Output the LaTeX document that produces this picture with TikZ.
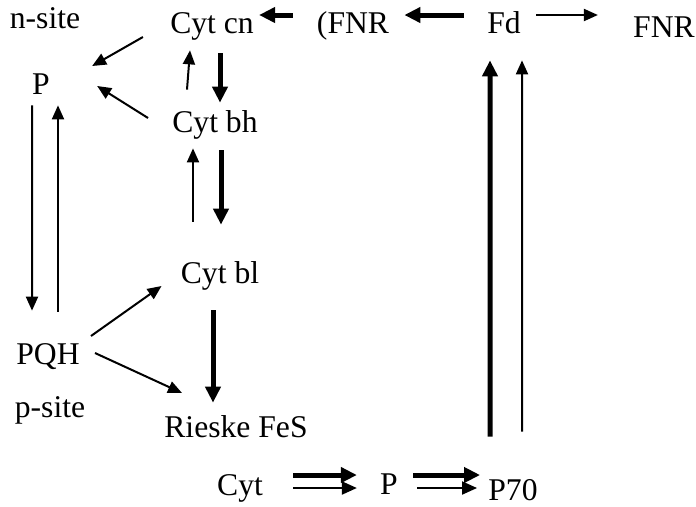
\documentclass[tikz,border=0pt]{standalone}
\usepackage{fontspec}
\setmainfont{Liberation Serif}
\usetikzlibrary{arrows.meta}

\begin{document}
\begin{tikzpicture}[every node/.style={font=\fontsize{18}{21}\selectfont,inner sep=0pt,text height=0.4cm,text depth=0.12cm,anchor=base},
lite/.style={line width=0.04cm,-{Triangle[length=0.28cm,width=0.24cm]}},
heavy/.style={line width=0.1cm,-{Triangle[length=0.32cm,width=0.30cm]}},
pairlow/.style={line width=0.04cm,-{Triangle[length=0.30cm,width=0.26cm]}}]
\useasboundingbox (0,0) rectangle (13.92,-10.12);
\node (nsite) at (0.90,-0.56) {n-site};
\node (cn) at (4.24,-0.66) {Cyt cn};
\node (fnrL) at (7.06,-0.66) {(FNR};
\node (fd) at (10.08,-0.66) {Fd};
\node (fnrR) at (13.28,-0.74) {FNR};
\node (p) at (0.82,-1.88) {P};
\node (bh) at (4.30,-2.64) {Cyt bh};
\node (bl) at (4.40,-5.66) {Cyt bl};
\node (pqh) at (0.96,-7.28) {PQH};
\node (psite) at (1.00,-8.34) {p-site};
\node (fes) at (4.72,-8.74) {Rieske FeS};
\node (cyt) at (4.80,-9.90) {Cyt};
\node (pm) at (7.78,-9.88) {P};
\node (p70) at (10.26,-10.00) {P70};
\draw[heavy] ([xshift=-0.46cm,yshift=0.22cm]fd.west) -- ([xshift=0.30cm,yshift=0.22cm]fnrL.east);
\draw[heavy] ([xshift=-0.48cm,yshift=0.22cm]fnrL.west) -- ([xshift=0.10cm,yshift=0.22cm]cn.east);
\draw[lite] ([xshift=0.30cm,yshift=0.22cm]fd.east) -- ([xshift=-0.70cm,yshift=0.30cm]fnrR.west);
\draw[lite] ([xshift=-0.54cm,yshift=-0.22cm]cn.west) -- ([xshift=0.84cm,yshift=0.42cm]p.east);
\draw[lite] ([xshift=-0.48cm,yshift=0.14cm]bh.west) -- ([xshift=0.94cm,yshift=0.02cm]p.east);
\draw[lite] ([xshift=-0.56cm,yshift=0.44cm]bh.north) -- ([xshift=-0.44cm,yshift=-0.22cm]cn.south);
\draw[heavy] ([xshift=0.16cm,yshift=-0.28cm]cn.south) -- ([xshift=0.10cm,yshift=0.18cm]bh.north);
\draw[lite] ([xshift=-0.18cm,yshift=-0.10cm]p.south) -- ([xshift=-0.32cm,yshift=0.66cm]pqh.north);
\draw[lite] ([xshift=0.20cm,yshift=0.64cm]pqh.north) -- ([xshift=0.34cm,yshift=-0.10cm]p.south);
\draw[lite] ([xshift=-0.54cm,yshift=0.82cm]bl.north) -- ([xshift=-0.44cm,yshift=-0.20cm]bh.south);
\draw[heavy] ([xshift=0.12cm,yshift=-0.24cm]bh.south) -- ([xshift=0.02cm,yshift=0.76cm]bl.north);
\draw[lite] ([xshift=0.22cm,yshift=0.42cm]pqh.east) -- ([xshift=-0.38cm,yshift=-0.20cm]bl.west);
\draw[heavy] ([xshift=-0.14cm,yshift=-0.42cm]bl.south) -- ([xshift=-0.46cm,yshift=0.28cm]fes.north);
\draw[lite] ([xshift=0.30cm,yshift=0.08cm]pqh.east) -- ([xshift=0.36cm,yshift=0.74cm]fes.west);
\draw[heavy] ([xshift=-0.46cm,yshift=0.86cm]p70.north) -- ([xshift=-0.28cm,yshift=-0.42cm]fd.south);
\draw[lite] ([xshift=0.18cm,yshift=0.96cm]p70.north) -- ([xshift=0.36cm,yshift=-0.42cm]fd.south);
\coordinate (cytup) at ([xshift=0.60cm,yshift=0.26cm]cyt.east);
\coordinate (cytdn) at ([xshift=0.60cm,yshift=0.0cm]cyt.east);
\coordinate (pmup) at ([xshift=0.30cm,yshift=0.24cm]pm.east);
\coordinate (pmdn) at ([xshift=0.38cm,yshift=-0.02cm]pm.east);
\draw[heavy] (cytup) -- ([xshift=-0.46cm]pm.west |- cytup);
\draw[pairlow] (cytdn) -- ([xshift=-0.46cm]pm.west |- cytdn);
\draw[heavy] (pmup) -- ([xshift=-0.16cm]p70.west |- pmup);
\draw[pairlow] (pmdn) -- ([xshift=-0.22cm]p70.west |- pmdn);
\end{tikzpicture}
\end{document}
